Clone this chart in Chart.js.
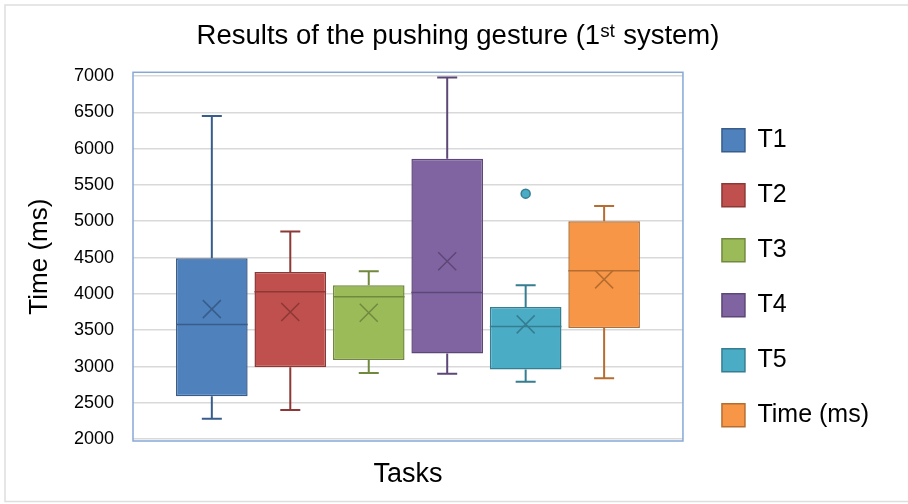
<!DOCTYPE html>
<html>
<head>
<meta charset="utf-8">
<title>Results of the pushing gesture</title>
<script src="https://cdn.jsdelivr.net/npm/chart.js@4.4.1/dist/chart.umd.min.js"></script>
<style>
  html, body { margin: 0; padding: 0; background: #fff; }
</style>
</head>
<body>
<canvas id="boxChart" width="908" height="504"></canvas>
<script>
// box plot values (ms)
const taskLabels = ['T1', 'T2', 'T3', 'T4', 'T5', 'Time (ms)'];
const minValues = [2280, 2400, 2910, 2900, 2790, 2840];
const q1Values = [2590, 2990, 3090, 3180, 2960, 3530];
const medianValues = [3580, 4030, 3960, 4020, 3550, 4320];
const q3Values = [4490, 4300, 4120, 5860, 3820, 5000];
const maxValues = [6450, 4860, 4310, 6980, 4120, 5210];
const meanValues = [3790, 3750, 3740, 4450, 3580, 4200];
const outlierValues = [[], [], [], [], [5380], []];
const yTickValues = [2000, 2500, 3000, 3500, 4000, 4500, 5000, 5500, 6000, 6500, 7000];

const fillColors = ['#4f81bd', '#c0504d', '#9bbb59', '#8064a2', '#4bacc6', '#f79646'];
const lineColors = ['#385d8a', '#8c3836', '#71893f', '#5c4776', '#357d91', '#b66d31'];

Chart.defaults.font.family = "'Liberation Sans', Arial, 'DejaVu Sans', sans-serif";
Chart.defaults.color = '#000';

// white page, thin grey frame, and the legend / title moved to where the picture has them
const pageTweaks = {
    id: 'pageTweaks',
    beforeDraw(chart) {
        const ctx = chart.ctx;
        ctx.save();
        ctx.fillStyle = '#fff';
        ctx.fillRect(0, 0, chart.width, chart.height);
        ctx.strokeStyle = '#dedede';
        ctx.lineWidth = 1.5;
        ctx.strokeRect(5, 5, chart.width, chart.height - 7.5);
        ctx.restore();
    },
    afterLayout(chart) {
        shiftBox(chart.legend, 9, 21);
        shiftBox(chart.titleBlock, 19, 0);
    },
    beforeDatasetsDraw(chart) {
        // plot area frame
        const a = chart.chartArea;
        const ctx = chart.ctx;
        ctx.save();
        ctx.strokeStyle = '#86a8d6';
        ctx.lineWidth = 1.5;
        ctx.strokeRect(a.left, a.top, a.right - a.left, a.bottom - a.top);
        ctx.restore();
    }
};

function shiftBox(box, dx, dy) {
    if (!box) return;
    box.left += dx;
    box.right += dx;
    box.top += dy;
    box.bottom += dy;
}

// whiskers, median, mean cross and outliers on top of the floating bars
const boxPlotParts = {
    id: 'boxPlotParts',
    afterDatasetsDraw(chart) {
        const ctx = chart.ctx;
        const y = chart.scales.y;
        ctx.save();
        chart.data.datasets.forEach((ds, i) => {
            const bar = chart.getDatasetMeta(i).data[0];
            if (!bar) return;
            const x = bar.x;
            const half = bar.width / 2;
            const cap = 10;
            ctx.strokeStyle = lineColors[i];
            ctx.lineWidth = 2;

            // whiskers
            ctx.beginPath();
            ctx.moveTo(x, y.getPixelForValue(q3Values[i]));
            ctx.lineTo(x, y.getPixelForValue(maxValues[i]));
            ctx.moveTo(x - cap, y.getPixelForValue(maxValues[i]));
            ctx.lineTo(x + cap, y.getPixelForValue(maxValues[i]));
            ctx.moveTo(x, y.getPixelForValue(q1Values[i]));
            ctx.lineTo(x, y.getPixelForValue(minValues[i]));
            ctx.moveTo(x - cap, y.getPixelForValue(minValues[i]));
            ctx.lineTo(x + cap, y.getPixelForValue(minValues[i]));
            ctx.stroke();

            // median
            ctx.lineWidth = 1.5;
            ctx.beginPath();
            ctx.moveTo(x - half, y.getPixelForValue(medianValues[i]));
            ctx.lineTo(x + half, y.getPixelForValue(medianValues[i]));
            ctx.stroke();

            // mean
            const my = y.getPixelForValue(meanValues[i]);
            const s = 9;
            ctx.beginPath();
            ctx.moveTo(x - s, my - s);
            ctx.lineTo(x + s, my + s);
            ctx.moveTo(x - s, my + s);
            ctx.lineTo(x + s, my - s);
            ctx.stroke();

            // outliers
            outlierValues[i].forEach(v => {
                ctx.beginPath();
                ctx.arc(x, y.getPixelForValue(v), 4.5, 0, Math.PI * 2);
                ctx.fillStyle = fillColors[i];
                ctx.fill();
                ctx.lineWidth = 1.5;
                ctx.stroke();
            });
        });
        ctx.restore();
    }
};

document.addEventListener('DOMContentLoaded', function() {
    const datasets = taskLabels.map((label, i) => ({
        label: label,
        data: [[q1Values[i], q3Values[i]]],
        backgroundColor: fillColors[i],
        borderColor: lineColors[i],
        borderWidth: 1.5,
        borderSkipped: false,
        categoryPercentage: 0.856,
        barPercentage: 0.913
    }));

    new Chart(document.getElementById('boxChart'), {
        type: 'bar',
        data: {
            labels: [''],
            datasets: datasets
        },
        options: {
            responsive: false,
            animation: false,
            devicePixelRatio: 1,
            layout: {
                padding: { top: 0, left: 8, right: 38, bottom: 0 }
            },
            plugins: {
                title: {
                    display: true,
                    text: 'Results of the pushing gesture (1ˢᵗ system)',
                    color: '#000',
                    font: { size: 27.5, weight: 'normal' },
                    padding: { top: 20, bottom: 19.3 }
                },
                legend: {
                    position: 'right',
                    fullSize: false,
                    labels: {
                        color: '#000',
                        font: { size: 25 },
                        boxWidth: 23,
                        boxHeight: 23,
                        padding: 30
                    }
                },
                tooltip: { enabled: false }
            },
            scales: {
                x: {
                    grid: { display: false },
                    border: { display: false },
                    ticks: { display: false },
                    title: {
                        display: true,
                        text: 'Tasks',
                        color: '#000',
                        font: { size: 27 },
                        padding: { top: 0, bottom: 12.8 }
                    },
                    afterFit(scale) {
                        scale.height = 63;
                    }
                },
                y: {
                    min: 1975,
                    max: 7050,
                    grid: { color: '#d9d9d9', lineWidth: 1.5, drawTicks: false },
                    border: { display: false },
                    ticks: {
                        color: '#000',
                        font: { size: 18 },
                        padding: 19,
                        callback: function(value) {
                            return String(value);
                        }
                    },
                    title: {
                        display: true,
                        text: 'Time (ms)',
                        color: '#000',
                        font: { size: 26 },
                        padding: { top: 16.4, bottom: 0 }
                    },
                    afterBuildTicks(scale) {
                        scale.ticks = yTickValues.map(v => ({ value: v }));
                    },
                    afterFit(scale) {
                        scale.width = 125;
                    }
                }
            }
        },
        plugins: [pageTweaks, boxPlotParts]
    });
});
</script>
</body>
</html>
